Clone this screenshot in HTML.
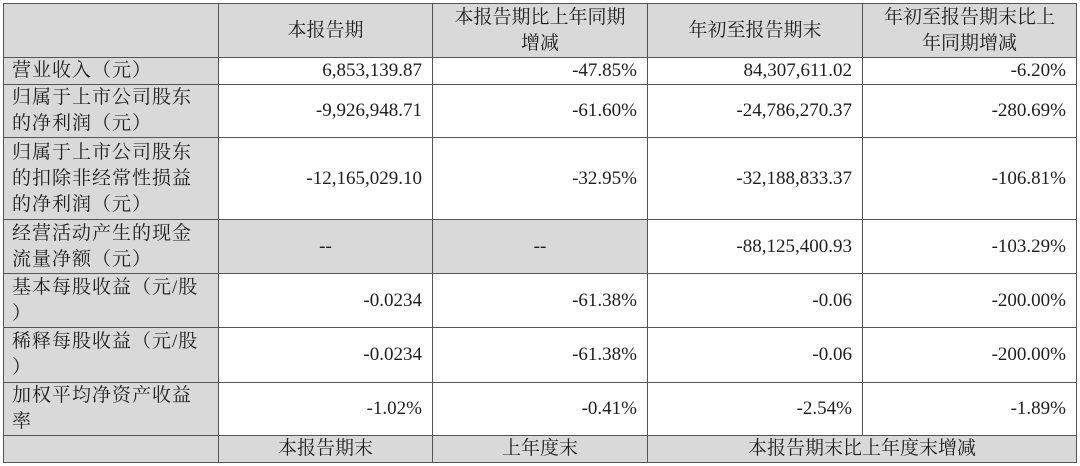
<!DOCTYPE html>
<html><head><meta charset="utf-8"><style>
body{margin:0;width:1080px;height:466px;background:#fff;position:relative;overflow:hidden;font-family:"Liberation Serif","Noto Serif CJK SC",serif;color:#1e1e1e;font-size:19px}
.c{position:absolute;box-sizing:border-box;border:1px solid #555;display:flex;align-items:center;line-height:26px}
.g{background:#d9d9d9}
.r{justify-content:flex-end;padding-right:10px}
.m{justify-content:center;text-align:center}
.l{padding-left:8px;letter-spacing:1px}
</style></head><body>
<div class="c g" style="left:3px;top:3px;width:216px;height:55px"></div>
<div class="c g m" style="left:218px;top:3px;width:215px;height:55px">本报告期</div>
<div class="c g m" style="left:432px;top:3px;width:216px;height:55px">本报告期比上年同期<br>增减</div>
<div class="c g m" style="left:647px;top:3px;width:216px;height:55px">年初至报告期末</div>
<div class="c g m" style="left:862px;top:3px;width:215px;height:55px">年初至报告期末比上<br>年同期增减</div>

<div class="c g l" style="left:3px;top:57px;width:216px;height:28px">营业收入（元）</div>
<div class="c r" style="left:218px;top:57px;width:215px;height:28px">6,853,139.87</div>
<div class="c r" style="left:432px;top:57px;width:216px;height:28px">-47.85%</div>
<div class="c r" style="left:647px;top:57px;width:216px;height:28px">84,307,611.02</div>
<div class="c r" style="left:862px;top:57px;width:215px;height:28px">-6.20%</div>

<div class="c g l" style="left:3px;top:84px;width:216px;height:54px">归属于上市公司股东<br>的净利润（元）</div>
<div class="c r" style="left:218px;top:84px;width:215px;height:54px">-9,926,948.71</div>
<div class="c r" style="left:432px;top:84px;width:216px;height:54px">-61.60%</div>
<div class="c r" style="left:647px;top:84px;width:216px;height:54px">-24,786,270.37</div>
<div class="c r" style="left:862px;top:84px;width:215px;height:54px">-280.69%</div>

<div class="c g l" style="left:3px;top:137px;width:216px;height:83px">归属于上市公司股东<br>的扣除非经常性损益<br>的净利润（元）</div>
<div class="c r" style="left:218px;top:137px;width:215px;height:83px">-12,165,029.10</div>
<div class="c r" style="left:432px;top:137px;width:216px;height:83px">-32.95%</div>
<div class="c r" style="left:647px;top:137px;width:216px;height:83px">-32,188,833.37</div>
<div class="c r" style="left:862px;top:137px;width:215px;height:83px">-106.81%</div>

<div class="c g l" style="left:3px;top:219px;width:216px;height:55px">经营活动产生的现金<br>流量净额（元）</div>
<div class="c g m" style="left:218px;top:219px;width:215px;height:55px">--</div>
<div class="c g m" style="left:432px;top:219px;width:216px;height:55px">--</div>
<div class="c r" style="left:647px;top:219px;width:216px;height:55px">-88,125,400.93</div>
<div class="c r" style="left:862px;top:219px;width:215px;height:55px">-103.29%</div>

<div class="c g l" style="left:3px;top:273px;width:216px;height:55px">基本每股收益（元/股<br>）</div>
<div class="c r" style="left:218px;top:273px;width:215px;height:55px">-0.0234</div>
<div class="c r" style="left:432px;top:273px;width:216px;height:55px">-61.38%</div>
<div class="c r" style="left:647px;top:273px;width:216px;height:55px">-0.06</div>
<div class="c r" style="left:862px;top:273px;width:215px;height:55px">-200.00%</div>

<div class="c g l" style="left:3px;top:327px;width:216px;height:56px">稀释每股收益（元/股<br>）</div>
<div class="c r" style="left:218px;top:327px;width:215px;height:56px">-0.0234</div>
<div class="c r" style="left:432px;top:327px;width:216px;height:56px">-61.38%</div>
<div class="c r" style="left:647px;top:327px;width:216px;height:56px">-0.06</div>
<div class="c r" style="left:862px;top:327px;width:215px;height:56px">-200.00%</div>

<div class="c g l" style="left:3px;top:382px;width:216px;height:54px">加权平均净资产收益<br>率</div>
<div class="c r" style="left:218px;top:382px;width:215px;height:54px">-1.02%</div>
<div class="c r" style="left:432px;top:382px;width:216px;height:54px">-0.41%</div>
<div class="c r" style="left:647px;top:382px;width:216px;height:54px">-2.54%</div>
<div class="c r" style="left:862px;top:382px;width:215px;height:54px">-1.89%</div>

<div class="c g" style="left:3px;top:435px;width:216px;height:28px"></div>
<div class="c g m" style="left:218px;top:435px;width:215px;height:28px">本报告期末</div>
<div class="c g m" style="left:432px;top:435px;width:216px;height:28px">上年度末</div>
<div class="c g m" style="left:647px;top:435px;width:430px;height:28px">本报告期末比上年度末增减</div>
</body></html>
